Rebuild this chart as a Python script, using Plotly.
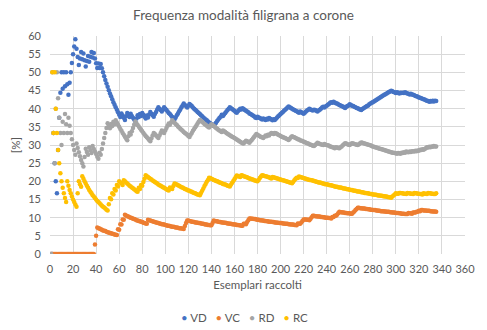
import plotly.graph_objects as go

# Esemplari raccolti (numero progressivo del campione)
esemplari = list(range(1, 336))

# Frequenze cumulate [%] delle modalità
VD = [
    0, 0, 33.3, 25.0, 20.0, 16.7, 28.6, 37.5, 44.4, 50.0,
    45.5, 50.0, 46.2, 50.0, 46.7, 43.8, 47.1, 50.0, 52.6, 55.0,
    57.1, 59.1, 56.5, 54.2, 52.0, 53.8, 55.6, 53.6, 55.2, 53.3,
    51.6, 53.1, 54.5, 52.9, 54.3, 55.6, 54.1, 55.3, 53.8, 52.5,
    51.2, 52.4, 51.2, 52.3, 51.1, 50.0, 48.9, 47.9, 46.9, 46.0,
    45.1, 44.2, 43.4, 42.6, 41.8, 41.1, 40.4, 39.7, 39.0, 38.3,
    37.7, 38.7, 38.1, 37.5, 36.9, 37.9, 38.8, 38.2, 37.7, 38.6,
    38.0, 37.5, 37.0, 36.5, 37.3, 38.2, 37.7, 38.5, 38.0, 38.8,
    38.3, 37.8, 37.3, 38.1, 37.6, 38.4, 39.1, 38.6, 38.2, 37.8,
    38.5, 39.1, 39.8, 40.4, 40.0, 39.6, 39.2, 39.8, 40.4, 40.0,
    39.6, 39.2, 38.8, 38.5, 38.1, 37.7, 37.4, 37.0, 37.6, 38.2,
    38.7, 39.3, 39.8, 40.4, 40.9, 41.4, 41.0, 40.7, 40.3, 40.8,
    41.3, 41.0, 40.7, 40.3, 40.0, 39.7, 39.4, 39.1, 38.8, 38.5,
    38.2, 37.9, 37.6, 37.3, 37.0, 36.8, 36.5, 36.2, 36.0, 35.7,
    35.5, 35.2, 35.7, 36.1, 36.6, 37.0, 37.4, 37.8, 38.3, 38.0,
    38.4, 38.8, 39.2, 39.6, 40.0, 40.4, 40.1, 39.9, 39.6, 39.4,
    39.1, 38.9, 39.3, 39.6, 40.0, 39.8, 40.1, 39.9, 39.6, 39.4,
    39.2, 39.0, 38.7, 38.5, 38.3, 38.1, 37.9, 37.6, 37.4, 37.8,
    37.6, 37.4, 37.2, 37.0, 37.3, 37.1, 36.9, 37.2, 37.0, 37.4,
    37.2, 37.0, 36.8, 37.1, 36.9, 37.2, 37.6, 37.9, 38.2, 38.5,
    38.8, 39.1, 39.4, 39.7, 40.0, 40.3, 40.6, 40.4, 40.2, 40.0,
    39.8, 39.6, 39.4, 39.3, 39.1, 38.9, 39.2, 39.0, 38.8, 38.6,
    38.9, 39.2, 39.5, 39.7, 40.0, 39.8, 39.6, 39.5, 39.7, 39.6,
    39.4, 39.2, 39.5, 39.7, 40.0, 40.3, 40.5, 40.3, 40.6, 40.8,
    41.1, 41.3, 41.6, 41.8, 41.6, 41.9, 41.7, 41.5, 41.4, 41.2,
    41.0, 40.9, 40.7, 40.6, 40.4, 40.2, 40.5, 40.7, 40.9, 41.2,
    41.0, 40.8, 40.7, 40.5, 40.4, 40.2, 40.1, 39.9, 39.8, 39.6,
    39.9, 40.1, 40.3, 40.5, 40.7, 40.9, 41.2, 41.4, 41.6, 41.8,
    42.0, 42.2, 42.4, 42.6, 42.8, 43.0, 43.2, 43.4, 43.6, 43.8,
    44.0, 44.2, 44.4, 44.6, 44.7, 44.9, 44.8, 44.6, 44.5, 44.3,
    44.5, 44.4, 44.2, 44.4, 44.3, 44.4, 44.3, 44.5, 44.3, 44.2,
    44.1, 43.9, 44.1, 43.9, 43.8, 43.7, 43.5, 43.4, 43.3, 43.1,
    43.0, 42.9, 42.7, 42.6, 42.5, 42.3, 42.2, 42.1, 41.9, 42.1,
    42.0, 42.2, 42.0, 42.2, 42.1,
]

VC = [
    0, 0, 0, 0, 0, 0, 0, 0, 0, 0,
    0, 0, 0, 0, 0, 0, 0, 0, 0, 0,
    0, 0, 0, 0, 0, 0, 0, 0, 0, 0,
    0, 0, 0, 0, 0, 0, 0, 0, 2.6, 5.0,
    7.3, 7.1, 7.0, 6.8, 6.7, 6.5, 6.4, 6.3, 6.1, 6.0,
    5.9, 5.8, 5.7, 5.6, 5.5, 5.4, 5.3, 5.2, 6.8, 6.7,
    8.2, 8.1, 9.5, 9.4, 10.8, 10.6, 10.4, 10.3, 10.1, 10.0,
    9.9, 9.7, 9.6, 9.5, 9.3, 9.2, 9.1, 9.0, 8.9, 8.8,
    8.6, 8.5, 8.4, 8.3, 9.4, 9.3, 9.2, 9.1, 9.0, 8.9,
    8.8, 8.7, 8.6, 8.5, 8.4, 8.3, 8.2, 8.2, 8.1, 8.0,
    7.9, 7.8, 7.8, 7.7, 7.6, 7.5, 7.5, 7.4, 7.3, 7.3,
    7.2, 7.1, 7.1, 7.0, 7.0, 6.9, 7.7, 8.5, 9.2, 9.2,
    9.1, 9.0, 8.9, 8.9, 8.8, 8.7, 8.7, 8.6, 8.5, 8.5,
    8.4, 8.3, 8.3, 8.2, 8.1, 8.1, 8.0, 8.0, 7.9, 7.9,
    8.5, 9.2, 9.1, 9.0, 9.0, 8.9, 8.8, 8.8, 8.7, 8.7,
    8.6, 8.6, 8.5, 8.4, 8.4, 8.3, 8.3, 8.2, 8.2, 8.1,
    8.1, 8.0, 8.0, 7.9, 7.9, 7.8, 7.8, 8.3, 8.3, 8.2,
    8.8, 9.3, 9.8, 9.8, 9.7, 9.7, 9.6, 9.6, 9.5, 9.4,
    9.4, 9.3, 9.3, 9.2, 9.2, 9.1, 9.1, 9.0, 9.0, 8.9,
    8.9, 8.9, 8.8, 8.8, 8.7, 8.7, 8.6, 8.6, 8.5, 8.5,
    8.5, 8.4, 8.4, 8.3, 8.3, 8.3, 8.2, 8.2, 8.1, 8.1,
    8.1, 8.0, 8.0, 7.9, 8.4, 8.3, 8.3, 8.7, 9.1, 9.5,
    9.5, 9.5, 9.4, 9.4, 9.3, 9.7, 10.1, 10.5, 10.5, 10.4,
    10.4, 10.3, 10.3, 10.3, 10.2, 10.2, 10.1, 10.1, 10.0, 10.0,
    10.0, 9.9, 9.9, 9.8, 10.2, 10.2, 10.5, 10.5, 10.8, 11.2,
    11.6, 11.5, 11.5, 11.4, 11.4, 11.3, 11.3, 11.2, 11.2, 11.2,
    11.1, 11.1, 11.4, 11.7, 12.1, 12.4, 12.7, 12.7, 12.6, 12.6,
    12.5, 12.5, 12.5, 12.4, 12.4, 12.3, 12.3, 12.2, 12.2, 12.1,
    12.1, 12.1, 12.0, 12.0, 11.9, 11.9, 11.8, 11.8, 11.8, 11.7,
    11.7, 11.6, 11.6, 11.6, 11.5, 11.5, 11.4, 11.4, 11.4, 11.3,
    11.3, 11.3, 11.2, 11.2, 11.1, 11.1, 11.1, 11.0, 11.0, 11.0,
    11.3, 11.2, 11.2, 11.1, 11.4, 11.4, 11.4, 11.6, 11.6, 11.9,
    11.8, 12.1, 12.1, 12.0, 12.0, 12.0, 11.9, 11.9, 11.9, 11.8,
    11.8, 11.7, 11.7, 11.7, 11.6,
]

RD = [
    0, 50.0, 33.3, 25.0, 40.0, 50.0, 42.9, 37.5, 33.3, 30.0,
    36.4, 33.3, 38.5, 35.7, 33.3, 37.5, 35.3, 33.3, 31.6, 30.0,
    28.6, 27.3, 30.4, 29.2, 28.0, 26.9, 25.9, 25.0, 24.1, 26.7,
    29.0, 28.1, 27.3, 29.4, 28.6, 27.8, 29.7, 28.9, 28.2, 27.5,
    26.8, 26.2, 27.9, 27.3, 28.9, 30.4, 31.9, 33.3, 34.7, 36.0,
    35.3, 34.6, 35.8, 35.2, 36.4, 35.7, 36.8, 36.2, 35.6, 35.0,
    34.4, 33.9, 33.3, 32.8, 32.3, 31.8, 31.3, 32.4, 33.3, 32.9,
    33.8, 34.7, 35.6, 36.5, 36.0, 35.5, 35.1, 34.6, 34.2, 33.8,
    33.3, 32.9, 32.5, 32.1, 31.8, 31.4, 31.0, 31.8, 32.6, 33.3,
    33.0, 32.6, 32.3, 31.9, 32.6, 33.3, 34.0, 33.7, 33.3, 34.0,
    34.7, 35.3, 35.9, 35.6, 36.2, 36.8, 36.4, 36.1, 35.8, 35.5,
    35.1, 34.8, 34.5, 34.2, 33.9, 33.6, 33.3, 33.1, 32.8, 32.5,
    32.2, 32.8, 33.3, 33.9, 34.4, 34.9, 35.4, 35.9, 36.4, 36.9,
    36.6, 36.4, 36.1, 35.8, 35.6, 35.3, 35.0, 34.8, 35.3, 35.7,
    35.5, 35.2, 35.0, 34.7, 34.5, 34.2, 34.0, 33.8, 33.6, 34.0,
    33.8, 33.6, 33.3, 33.1, 32.9, 32.7, 32.5, 32.3, 32.1, 31.9,
    31.7, 31.5, 31.3, 31.1, 30.9, 30.7, 30.5, 30.4, 30.8, 31.2,
    31.0, 30.8, 30.6, 31.0, 31.4, 31.8, 32.2, 32.6, 33.0, 32.8,
    32.6, 32.4, 32.2, 32.1, 31.9, 32.3, 32.6, 32.4, 32.8, 32.6,
    33.0, 33.3, 33.2, 33.0, 33.3, 33.2, 33.0, 32.8, 32.7, 32.5,
    32.3, 32.2, 32.0, 31.9, 31.7, 31.6, 31.4, 31.7, 32.1, 32.4,
    32.2, 32.1, 31.9, 31.8, 31.6, 31.5, 31.3, 31.2, 31.1, 30.9,
    30.8, 30.6, 30.5, 30.4, 30.2, 30.1, 30.0, 29.8, 29.7, 30.0,
    30.3, 30.6, 30.5, 30.3, 30.2, 30.1, 30.0, 30.3, 30.1, 30.0,
    29.9, 29.8, 29.6, 29.5, 29.4, 29.3, 29.1, 29.4, 29.3, 29.2,
    29.1, 29.4, 29.6, 29.9, 30.2, 30.5, 30.4, 30.2, 30.1, 30.0,
    30.3, 30.5, 30.4, 30.3, 30.2, 30.1, 30.0, 30.2, 30.5, 30.7,
    30.6, 30.5, 30.4, 30.3, 30.2, 30.1, 30.0, 29.9, 29.7, 29.6,
    29.5, 29.4, 29.3, 29.2, 29.1, 29.0, 28.9, 28.8, 28.7, 28.6,
    28.5, 28.4, 28.3, 28.2, 28.1, 28.0, 27.9, 27.9, 27.8, 27.7,
    27.6, 27.8, 27.7, 27.6, 27.9, 27.8, 28.0, 27.9, 28.2, 28.1,
    28.0, 28.2, 28.1, 28.3, 28.3, 28.2, 28.4, 28.3, 28.5, 28.4,
    28.7, 28.6, 28.8, 28.7, 28.9, 29.1, 29.4, 29.3, 29.5, 29.4,
    29.6, 29.5, 29.7, 29.6, 29.6,
]

RC = [
    100, 50.0, 33.3, 50.0, 40.0, 33.3, 28.6, 25.0, 22.2, 20.0,
    18.2, 16.7, 15.4, 14.3, 20.0, 18.8, 17.6, 16.7, 15.8, 15.0,
    14.3, 13.6, 13.0, 16.7, 20.0, 19.2, 18.5, 21.4, 20.7, 20.0,
    19.4, 18.8, 18.2, 17.6, 17.1, 16.7, 16.2, 15.8, 15.4, 15.0,
    14.6, 14.3, 14.0, 13.6, 13.3, 13.0, 12.8, 12.5, 12.2, 12.0,
    13.7, 15.4, 15.1, 16.7, 16.4, 17.9, 17.5, 19.0, 18.6, 20.0,
    19.7, 19.4, 19.0, 20.3, 20.0, 19.7, 19.4, 19.1, 18.8, 18.6,
    18.3, 18.1, 17.8, 17.6, 17.3, 17.1, 18.2, 17.9, 19.0, 18.8,
    19.8, 20.7, 21.7, 21.4, 21.2, 20.9, 20.7, 20.5, 20.2, 20.0,
    19.8, 19.6, 19.4, 19.1, 18.9, 18.8, 18.6, 18.4, 18.2, 18.0,
    17.8, 17.6, 17.5, 18.3, 18.1, 17.9, 18.7, 19.4, 19.3, 19.1,
    18.9, 18.8, 18.6, 18.4, 18.3, 18.1, 17.9, 17.8, 17.6, 17.5,
    17.4, 17.2, 17.1, 16.9, 16.8, 16.7, 16.5, 16.4, 16.3, 16.2,
    16.8, 17.4, 18.0, 18.7, 19.3, 19.9, 20.4, 21.0, 20.9, 20.7,
    20.6, 20.4, 20.3, 20.1, 20.0, 19.9, 19.7, 19.6, 19.5, 19.3,
    19.2, 19.1, 19.0, 18.8, 18.7, 18.6, 19.1, 19.6, 20.1, 20.6,
    21.1, 21.6, 21.5, 21.3, 21.2, 21.7, 21.6, 21.4, 21.3, 21.2,
    21.1, 20.9, 20.8, 20.7, 20.6, 20.5, 20.3, 20.2, 20.1, 20.0,
    20.4, 20.9, 21.3, 21.7, 21.6, 21.5, 21.4, 21.3, 21.2, 21.1,
    20.9, 20.8, 21.2, 21.1, 21.0, 20.9, 20.8, 20.7, 20.6, 20.5,
    20.4, 20.3, 20.2, 20.1, 20.0, 19.9, 19.8, 19.7, 19.6, 19.5,
    19.9, 20.3, 20.7, 21.0, 20.9, 21.3, 21.2, 21.1, 21.0, 20.9,
    20.8, 20.7, 20.6, 20.5, 20.4, 20.4, 20.3, 20.2, 20.1, 20.0,
    19.9, 19.8, 19.7, 19.7, 19.6, 19.5, 19.4, 19.3, 19.2, 19.2,
    19.1, 19.0, 18.9, 18.9, 18.8, 18.7, 18.6, 18.5, 18.5, 18.4,
    18.3, 18.3, 18.2, 18.1, 18.0, 18.0, 17.9, 17.8, 17.8, 17.7,
    17.6, 17.6, 17.5, 17.4, 17.4, 17.3, 17.2, 17.2, 17.1, 17.0,
    17.0, 16.9, 16.8, 16.8, 16.7, 16.7, 16.6, 16.5, 16.5, 16.4,
    16.4, 16.3, 16.3, 16.2, 16.1, 16.1, 16.0, 16.0, 15.9, 15.9,
    15.8, 15.8, 15.7, 15.6, 15.6, 15.5, 15.8, 16.1, 16.4, 16.7,
    16.6, 16.6, 16.8, 16.8, 16.7, 16.7, 16.6, 16.6, 16.5, 16.8,
    16.7, 16.7, 16.6, 16.6, 16.5, 16.8, 16.7, 16.7, 16.6, 16.6,
    16.5, 16.5, 16.4, 16.7, 16.6, 16.6, 16.5, 16.8, 16.7, 16.7,
    16.6, 16.6, 16.5, 16.5, 16.7,
]

serie = [("VD", VD, "#4472C4"), ("VC", VC, "#ED7D31"),
         ("RD", RD, "#A5A5A5"), ("RC", RC, "#FFC000")]

FONT = "Lato, 'Open Sans', sans-serif"
GREY_TXT = "#595959"
GRID = "#D9D9D9"

fig = go.Figure()
for nome, valori, colore in serie:
    fig.add_trace(go.Scatter(
        x=esemplari, y=valori, name=nome, mode="markers",
        marker=dict(size=4.5, color=colore, line=dict(width=0)),
        showlegend=False,
    ))

# Legenda in basso, centrata
legenda = "   ".join(
    f"<span style='color:{c}'>\u2022</span> {n}" for n, _, c in serie
)
fig.add_annotation(
    text=legenda, xref="paper", yref="paper", x=0.469, y=-0.29,
    xanchor="center", yanchor="middle", showarrow=False,
    font=dict(family=FONT, size=11.5, color=GREY_TXT),
)

fig.update_layout(
    width=487, height=330,
    margin=dict(l=50, r=17, t=36, b=76),
    paper_bgcolor="white", plot_bgcolor="white",
    font=dict(family=FONT, size=11, color=GREY_TXT),
    title=dict(
        text="Frequenza modalità filigrana a corone",
        x=0.5, xref="container", xanchor="center",
        y=1 - 15 / 330, yref="container", yanchor="middle",
        font=dict(family=FONT, size=13.5, color=GREY_TXT),
    ),
)

fig.update_xaxes(
    range=[0, 360], dtick=20, tick0=0,
    showgrid=True, gridcolor=GRID, gridwidth=1,
    zeroline=False, showline=False, ticks="",
    ticklabelstandoff=7,
    tickfont=dict(family=FONT, size=11, color=GREY_TXT),
    title=dict(text="Esemplari raccolti", standoff=6,
               font=dict(family=FONT, size=11.5, color=GREY_TXT)),
)
fig.update_yaxes(
    range=[0, 60], dtick=5, tick0=0,
    showgrid=True, gridcolor=GRID, gridwidth=1,
    zeroline=False, showline=False, ticks="",
    ticklabelstandoff=8,
    tickfont=dict(family=FONT, size=11, color=GREY_TXT),
    title=dict(text="[%]", standoff=5,
               font=dict(family=FONT, size=11.5, color=GREY_TXT)),
)

fig.write_html("out.html")
